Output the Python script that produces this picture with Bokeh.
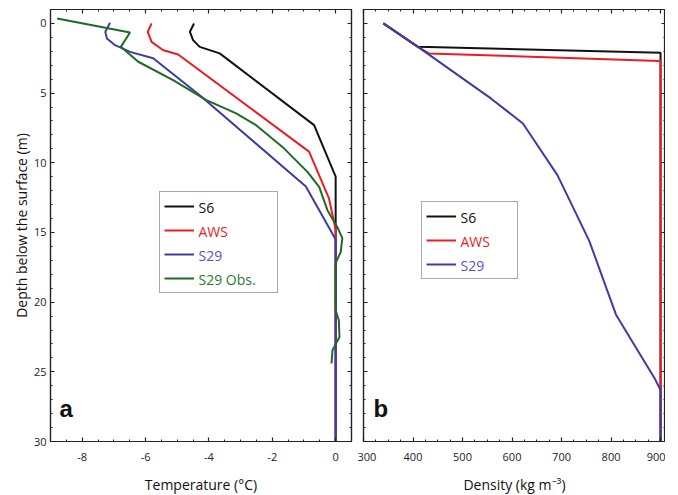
from bokeh.plotting import figure
from bokeh.models import (Range1d, LinearAxis, Legend, LegendItem, Label,
                          SingleIntervalTicker, CustomJSTickFormatter)
from bokeh.layouts import row
from bokeh.embed import file_html
from bokeh.resources import INLINE

# ---------------- data: panel a (temperature profiles) ----------------
s6_temp = [-4.47, -4.6, -4.5, -4.29, -3.66, -0.68, 0.0, 0.0]
s6_temp_depth = [0.0, 0.6, 1.2, 1.68, 2.15, 7.3, 11.0, 30.0]

aws_temp = [-5.81, -5.93, -5.81, -5.44, -4.97, -0.84, -0.21, 0.0, 0.0]
aws_temp_depth = [0.0, 0.6, 1.32, 1.92, 2.23, 9.2, 12.56, 14.8, 30.0]

s29_temp = [-7.12, -7.27, -7.22, -6.96, -6.49, -5.76, -4.29, -0.94, 0.0, 0.0]
s29_temp_depth = [-0.05, 0.6, 1.08, 1.56, 2.04, 2.5, 5.15, 11.7, 15.5, 30.0]

obs_temp = [-8.79, -6.49, -6.78, -6.23, -5.13, -4.08, -3.14, -2.51, -1.68,
            -0.89, -0.52, -0.26, 0.05, 0.21, 0.16, 0.0, 0.0, 0.1, 0.12,
            -0.1, -0.13]
obs_temp_depth = [-0.36, 0.65, 1.68, 2.75, 4.07, 5.5, 6.46, 7.3, 8.86,
                  10.65, 11.73, 13.4, 14.6, 15.4, 16.4, 17.2, 20.6, 21.3,
                  22.5, 23.45, 24.4]

# ---------------- data: panel b (density profiles) ----------------
s6_dens = [340, 410, 900, 900]
s6_dens_depth = [0.0, 1.68, 2.1, 30.0]

aws_dens = [340, 410, 432, 898, 900, 900]
aws_dens_depth = [0.0, 1.68, 2.15, 2.7, 2.7, 30.0]

s29_dens = [340, 410, 558, 622, 692, 756, 810, 887, 900, 900]
s29_dens_depth = [0.0, 1.68, 5.4, 7.18, 10.9, 15.6, 20.9, 25.4, 26.3, 30.0]

labels_a = ["S6", "AWS", "S29", "S29 Obs."]
labels_b = ["S6", "AWS", "S29"]

# ---------------- styles ----------------
C_BLACK = "#111111"
C_RED = "#ec1c24"
C_BLUE = "#3c3ca6"
C_GREEN = "#1f6b25"
TXT_COLORS = {"S6": "#111111", "AWS": "#ec1c24", "S29": "#5555c0",
              "S29 Obs.": "#2a7a30"}
FONT = "Open Sans"
FRAME_H = 432


def style_axis(ax, labels=True):
    ax.major_tick_in = 4
    ax.major_tick_out = 0
    ax.minor_tick_in = 2
    ax.minor_tick_out = 0
    ax.axis_line_color = "#222222"
    ax.axis_line_width = 1.2
    ax.major_tick_line_color = "#222222"
    ax.minor_tick_line_color = "#222222"
    ax.major_tick_line_width = 1.2
    ax.minor_tick_line_width = 1
    ax.major_label_text_font = FONT
    ax.major_label_text_color = "#222222"
    ax.major_label_text_font_size = "11px"
    ax.axis_label_text_font = FONT
    ax.axis_label_text_font_style = "normal"
    ax.axis_label_text_font_size = "14px"
    ax.axis_label_text_color = "#111111"
    if labels:
        ax.major_label_standoff = 4
        ax.formatter = CustomJSTickFormatter(code="return String(tick)")
    else:
        ax.formatter = CustomJSTickFormatter(code="return ''")
        ax.major_label_standoff = 0


def make_fig(x_range, xticker, frame_w, ml, mr, ylabels):
    p = figure(frame_width=frame_w, frame_height=FRAME_H,
               x_range=x_range, y_range=Range1d(30, -1),
               output_backend="svg", toolbar_location=None,
               min_border_left=ml, min_border_right=mr,
               min_border_top=9, min_border_bottom=0)
    p.grid.visible = False
    p.outline_line_color = "#222222"
    p.outline_line_width = 1.2
    p.background_fill_color = "white"
    p.border_fill_color = "white"
    yt = SingleIntervalTicker(interval=5, num_minor_ticks=5)
    bottom = p.below[0]
    left = p.left[0]
    left.ticker = yt
    bottom.ticker = xticker
    style_axis(bottom)
    bottom.major_label_standoff = 11
    bottom.axis_label_standoff = 11
    style_axis(left, labels=ylabels)
    left.axis_label_standoff = 0
    top = LinearAxis(ticker=xticker)
    style_axis(top, labels=False)
    p.add_layout(top, "above")
    right = LinearAxis(ticker=yt)
    style_axis(right, labels=False)
    p.add_layout(right, "right")
    return p, bottom, left


def add_legend(p, renderers, names, lx, ly, label_w):
    pad, lh, sp, gw, so = 4, 20, 4, 30, 5
    items = [LegendItem(label=n, renderers=[r]) for n, r in zip(names, renderers)]
    leg = Legend(items=items, location=(lx, ly), padding=pad, spacing=sp,
                 label_height=lh, glyph_height=lh, glyph_width=gw,
                 label_standoff=so, label_width=label_w,
                 label_text_alpha=0, label_text_font_size="14px",
                 label_text_font=FONT, margin=0,
                 border_line_color="#555555", border_line_width=1.2,
                 background_fill_alpha=0)
    p.add_layout(leg)
    n = len(names)
    H = 2 * pad + n * lh + (n - 1) * sp
    for i, name in enumerate(names):
        cy = ly + H - pad - i * (lh + sp) - lh / 2
        p.add_layout(Label(x=lx + pad + gw + so, y=cy, x_units="screen",
                           y_units="screen", text=name, level="overlay",
                           text_color=TXT_COLORS[name], text_font=FONT,
                           text_font_size="14px", text_baseline="middle"))


# ---------------- panel a ----------------
pa, pa_bottom, pa_left = make_fig(
    Range1d(-9, 0.5), SingleIntervalTicker(interval=2, num_minor_ticks=4),
    301, 50, 6, True)
pa_bottom.axis_label = "Temperature (°C)"
pa_left.axis_label = "Depth below the surface (m)"
ra1 = pa.line(s6_temp, s6_temp_depth, line_color=C_BLACK, line_width=2)
ra2 = pa.line(aws_temp, aws_temp_depth, line_color=C_RED, line_width=2)
ra3 = pa.line(s29_temp, s29_temp_depth, line_color=C_BLUE, line_width=2)
ra4 = pa.line(obs_temp, obs_temp_depth, line_color=C_GREEN, line_width=2)
add_legend(pa, [ra1, ra2, ra3, ra4], labels_a, 109, 148, 74)
pa.add_layout(Label(x=9, y=20, x_units="screen", y_units="screen", text="a",
                    text_font="Liberation Sans", text_font_style="bold",
                    text_font_size="24px", text_color="#111111"))

# ---------------- panel b ----------------
pb, pb_bottom, pb_left = make_fig(
    Range1d(300, 910), SingleIntervalTicker(interval=100, num_minor_ticks=4),
    302, 6, 0, False)
pb_bottom.axis_label = "Density (kg m\u207b\u00b3)"
rb1 = pb.line(s6_dens, s6_dens_depth, line_color=C_BLACK, line_width=2)
rb2 = pb.line(aws_dens, aws_dens_depth, line_color=C_RED, line_width=2)
rb3 = pb.line(s29_dens, s29_dens_depth, line_color=C_BLUE, line_width=2)
add_legend(pb, [rb1, rb2, rb3], labels_b, 58, 162, 52)
pb.add_layout(Label(x=10, y=20, x_units="screen", y_units="screen", text="b",
                    text_font="Liberation Sans", text_font_style="bold",
                    text_font_size="24px", text_color="#111111"))

layout = row(pa, pb)
open("out.html", "w").write(file_html(layout, INLINE))
